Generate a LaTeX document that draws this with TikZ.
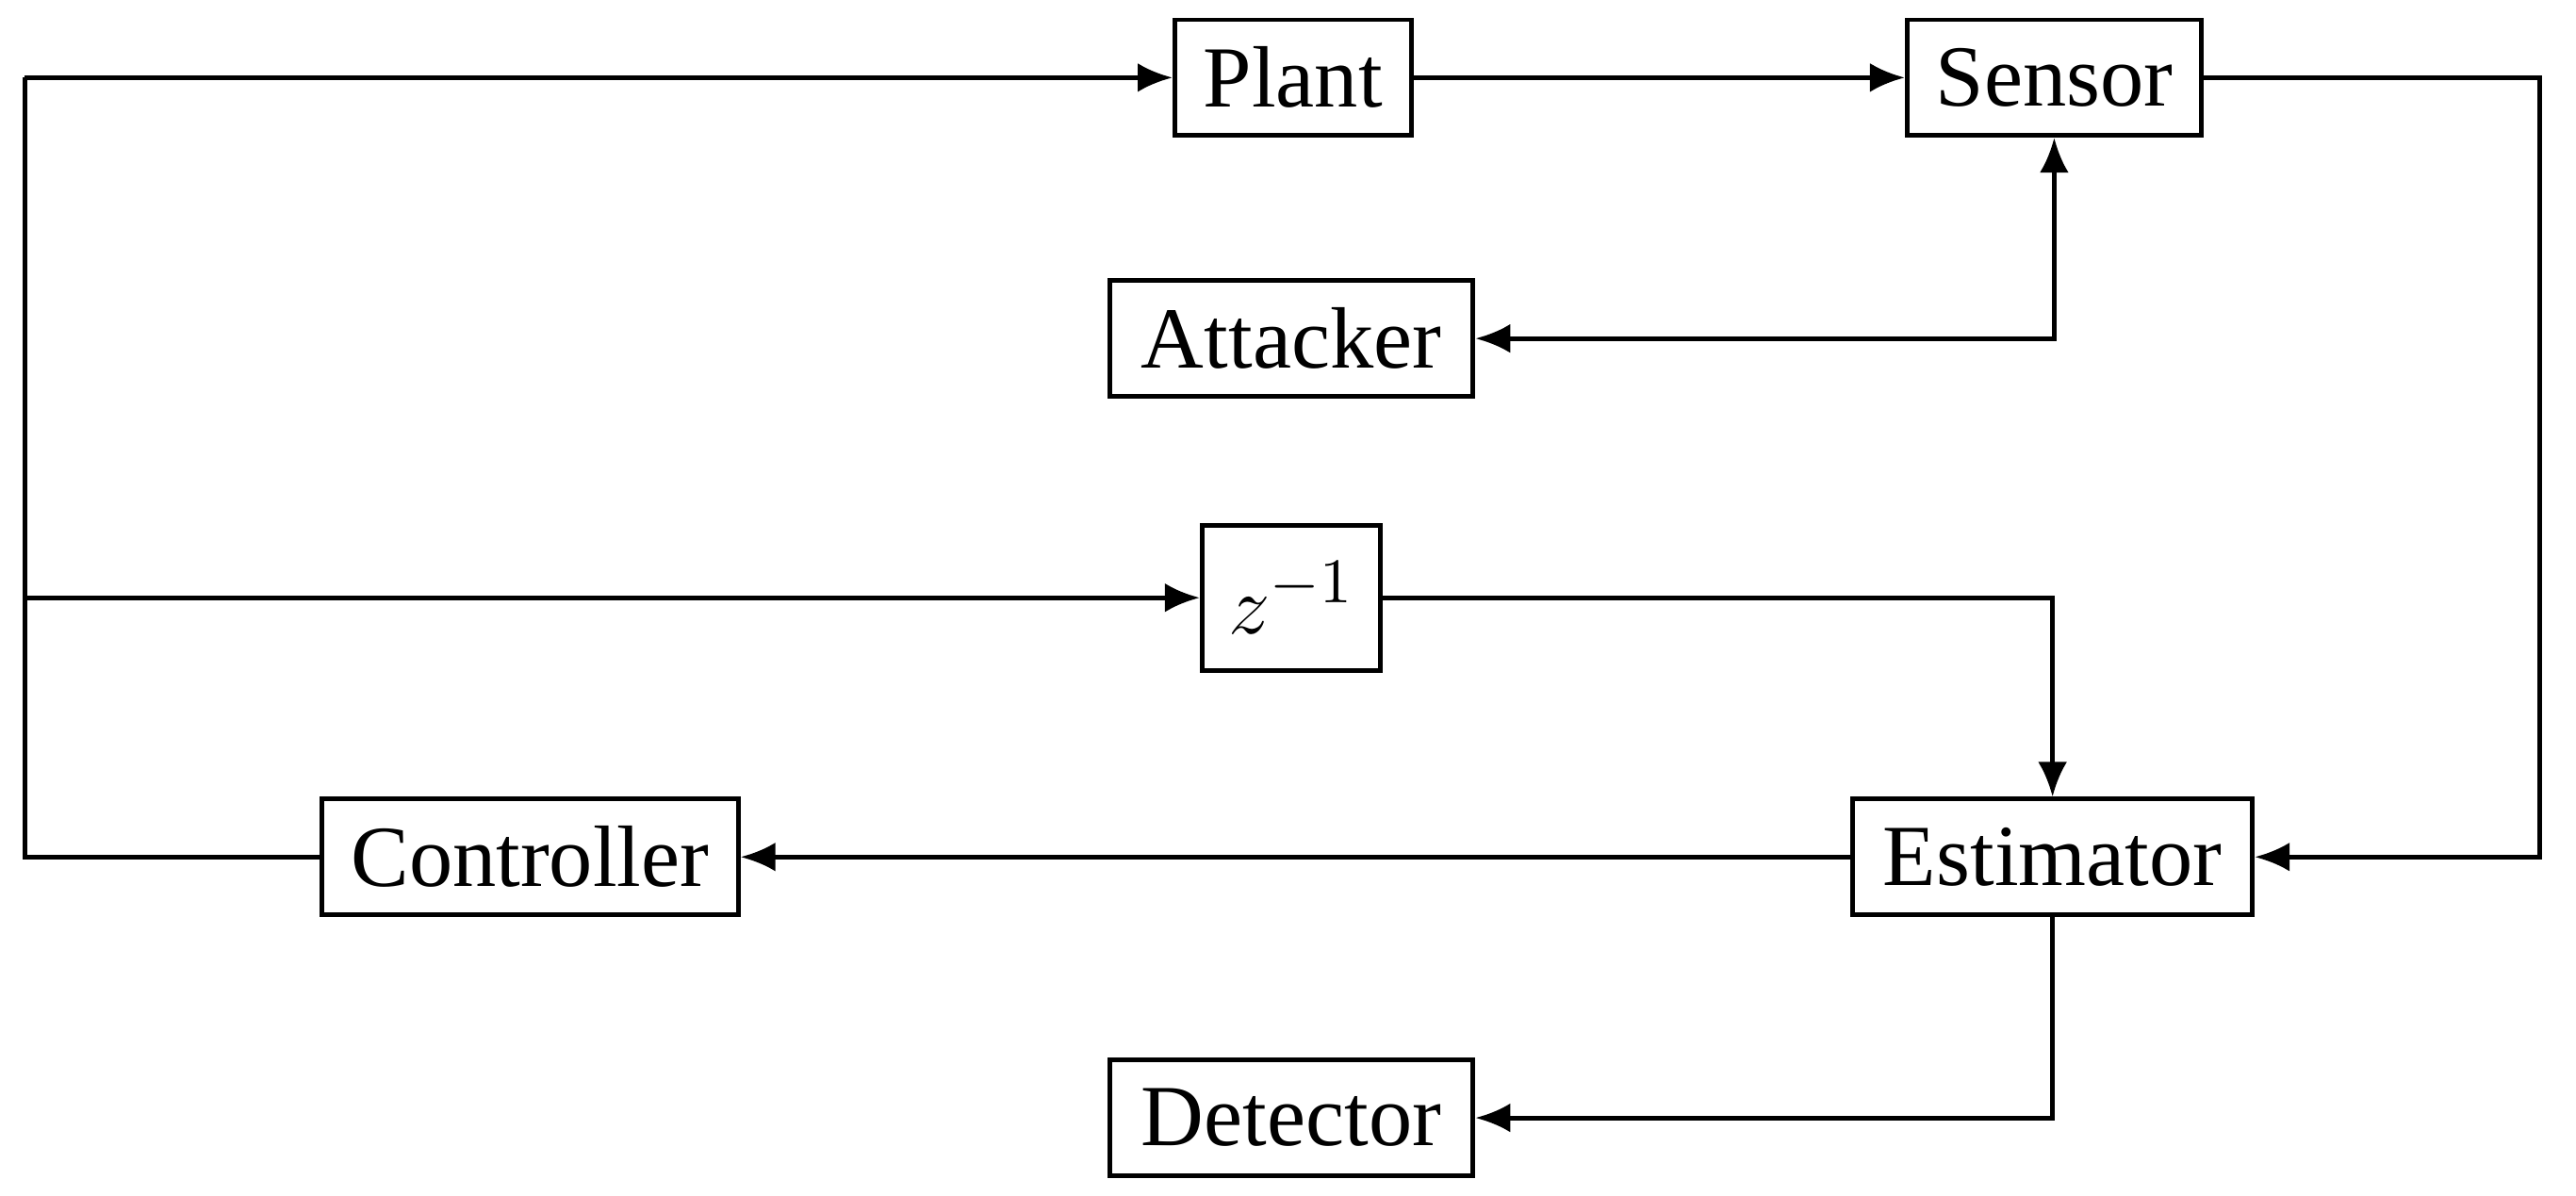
\documentclass[tikz,border=0pt]{standalone}
\usepackage{fontspec}
\setmainfont{Liberation Serif}
\usetikzlibrary{arrows.meta}
\begin{document}
\begin{tikzpicture}[x=0.01cm,y=-0.01cm,
  blk/.style={draw,line width=0.8pt,minimum height=0.7cm,inner xsep=4pt,font=\fontsize{15}{18}\selectfont},
  ln/.style={line width=0.8pt},
  ar/.style={ln,-{Latex[length=6pt,width=5pt]}}]
\useasboundingbox (0,0) rectangle (1560,724);
\node[blk,minimum width=1.43cm] (plant) at (783,47) {Plant};
\node[blk,minimum width=1.78cm] (sensor) at (1244,47) {Sensor};
\node[blk,minimum width=2.2cm] (att) at (782,205) {Attacker};
\node[blk,minimum width=1.08cm,minimum height=0.88cm] (z) at (782,362) {$z^{-1}$};
\node[blk,minimum width=2.52cm] (ctrl) at (321,519) {Controller};
\node[blk,minimum width=2.42cm] (est) at (1243,519) {Estimator};
\node[blk,minimum width=2.2cm] (det) at (782,677) {Detector};
\coordinate (tl) at (15,47);
\coordinate (ml) at (15,362);
\coordinate (bl) at (15,519);
\coordinate (sr) at (1538,47);
\coordinate (er) at (1538,519);
\draw[ln] (ctrl.west) -- (bl) -- (tl);
\draw[ar] (tl) -- (plant.west);
\draw[ar] (ml) -- (z.west);
\draw[ar] (plant.east) -- (sensor.west);
\draw[ar] (sensor.east) -- (sr) -- (er) -- (est.east);
\draw[ar] (est.west) -- (ctrl.east);
\draw[ar] (z.east) -| (est.north);
\draw[ar] (est.south) |- (det.east);
\draw[ln,{Latex[length=6pt,width=5pt]}-{Latex[length=6pt,width=5pt]}] (att.east) -| (sensor.south);
\end{tikzpicture}
\end{document}
